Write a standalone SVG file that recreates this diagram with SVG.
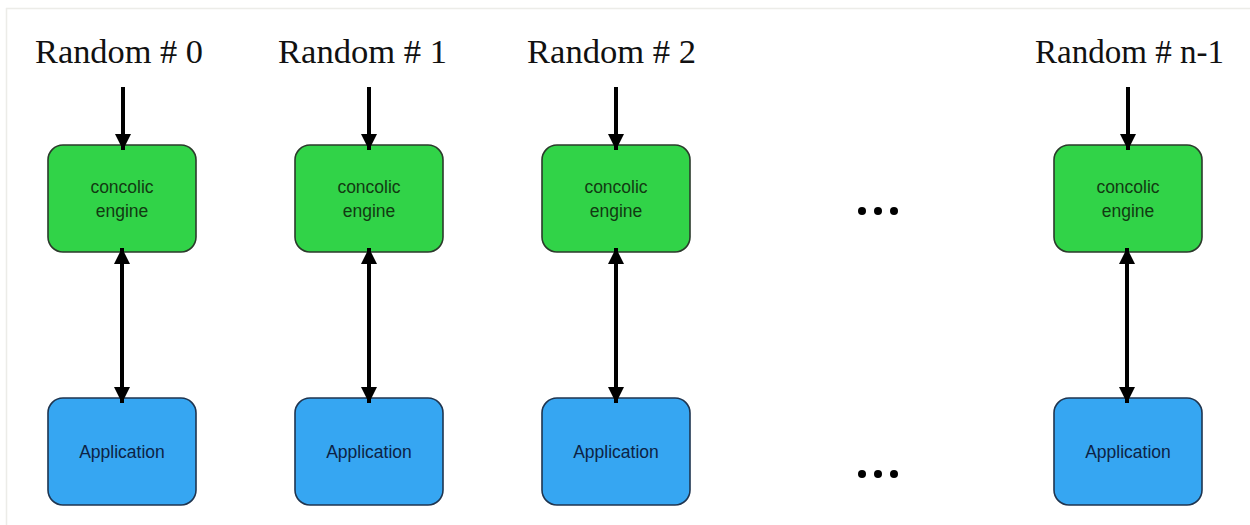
<svg xmlns="http://www.w3.org/2000/svg" width="1250" height="525" viewBox="0 0 1250 525">
<style>
.title{font-family:"Liberation Serif",serif;font-size:33px;fill:#111}
.eng{fill:#31d348;stroke:#2b3a2b;stroke-width:1.6}
.app{fill:#36a6f2;stroke:#1f3550;stroke-width:1.6}
.lbl{font-family:"Liberation Sans",Arial,sans-serif;font-size:17.5px;text-anchor:middle}
.lg{fill:#123a12}
.lb{fill:#0d2345}
.conn line{stroke:#000;stroke-width:4}
.dot{fill:#000}
</style>
<defs>
<marker id="ah" viewBox="0 0 10 10" refX="10" refY="5" markerWidth="4" markerHeight="4.4" orient="auto-start-reverse" markerUnits="strokeWidth">
<path d="M0,0 L10,5 L0,10 z" fill="#000"/>
</marker>
</defs>
<rect width="1250" height="525" fill="#fff"/>
<line x1="6" y1="8.5" x2="1250" y2="8.5" stroke="#ecece8" stroke-width="1.5"/>
<line x1="6.5" y1="8" x2="6.5" y2="525" stroke="#ecece8" stroke-width="1.5"/>

<g id="col0">
<text class="title" x="35" y="63" textLength="168" lengthAdjust="spacingAndGlyphs">Random # 0</text>
<g id="engine0"><rect class="eng" x="48" y="145" width="148" height="107" rx="15"/>
<text class="lbl lg" x="122" y="193">concolic</text><text class="lbl lg" x="122" y="217">engine</text></g>
<g id="app0"><rect class="app" x="48" y="398" width="148" height="107" rx="15"/>
<text class="lbl lb" x="122" y="458">Application</text></g>
</g>

<g id="col1">
<text class="title" x="278" y="63" textLength="169" lengthAdjust="spacingAndGlyphs">Random # 1</text>
<g id="engine1"><rect class="eng" x="295" y="145" width="148" height="107" rx="15"/>
<text class="lbl lg" x="369" y="193">concolic</text><text class="lbl lg" x="369" y="217">engine</text></g>
<g id="app1"><rect class="app" x="295" y="398" width="148" height="107" rx="15"/>
<text class="lbl lb" x="369" y="458">Application</text></g>
</g>

<g id="col2">
<text class="title" x="527" y="63" textLength="169" lengthAdjust="spacingAndGlyphs">Random # 2</text>
<g id="engine2"><rect class="eng" x="542" y="145" width="148" height="107" rx="15"/>
<text class="lbl lg" x="616" y="193">concolic</text><text class="lbl lg" x="616" y="217">engine</text></g>
<g id="app2"><rect class="app" x="542" y="398" width="148" height="107" rx="15"/>
<text class="lbl lb" x="616" y="458">Application</text></g>
</g>

<g id="coln">
<text class="title" x="1035" y="63" textLength="189" lengthAdjust="spacingAndGlyphs">Random # n-1</text>
<g id="enginen"><rect class="eng" x="1054" y="145" width="148" height="107" rx="15"/>
<text class="lbl lg" x="1128" y="193">concolic</text><text class="lbl lg" x="1128" y="217">engine</text></g>
<g id="appn"><rect class="app" x="1054" y="398" width="148" height="107" rx="15"/>
<text class="lbl lb" x="1128" y="458">Application</text></g>
</g>

<g id="ellipsis">
<circle class="dot" cx="862" cy="211" r="4"/><circle class="dot" cx="878" cy="211" r="4"/><circle class="dot" cx="894" cy="211" r="4"/>
<circle class="dot" cx="862" cy="474" r="4"/><circle class="dot" cx="878" cy="474" r="4"/><circle class="dot" cx="894" cy="474" r="4"/>
</g>

<g id="connectors" class="conn">
<line x1="123" y1="87" x2="123" y2="150" marker-end="url(#ah)"/>
<line x1="122" y1="248" x2="122" y2="403" marker-start="url(#ah)" marker-end="url(#ah)"/>
<line x1="369" y1="87" x2="369" y2="150" marker-end="url(#ah)"/>
<line x1="369" y1="248" x2="369" y2="403" marker-start="url(#ah)" marker-end="url(#ah)"/>
<line x1="616" y1="87" x2="616" y2="150" marker-end="url(#ah)"/>
<line x1="616" y1="248" x2="616" y2="403" marker-start="url(#ah)" marker-end="url(#ah)"/>
<line x1="1128" y1="87" x2="1128" y2="150" marker-end="url(#ah)"/>
<line x1="1127" y1="248" x2="1127" y2="403" marker-start="url(#ah)" marker-end="url(#ah)"/>
</g>
</svg>
